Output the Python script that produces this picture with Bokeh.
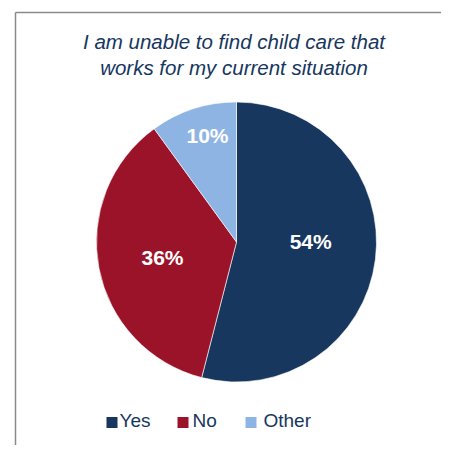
import math
from bokeh.plotting import figure
from bokeh.models import ColumnDataSource, Range1d
from bokeh.core.properties import value
from bokeh.embed import file_html
from bokeh.resources import INLINE

# ---- data ----
categories = ["Yes", "No", "Other"]
percents = [54, 36, 10]
colors = ["#17375E", "#9B1329", "#8EB4E3"]
label_radius_frac = [0.53, 0.54, 0.79]
label_angle_shift_deg = [7.6, 1.0, -2.8]
title_lines = ["I am unable to find child care that", "works for my current situation"]

W, H = 441, 445
FONT = "Liberation Sans"
NAVY = "#17375E"

p = figure(width=W, height=H, output_backend="svg", toolbar_location=None,
           x_range=Range1d(0, W), y_range=Range1d(0, H), min_border=0)
p.axis.visible = False
p.grid.visible = False
p.outline_line_color = None
p.background_fill_color = "white"

# frame border (left and top)
p.segment(x0=[15, 15], y0=[433, 433], x1=[15, W], y1=[0, 433],
          line_color="#8A8A8A", line_width=1.5)

# pie
cx, cy, R = 236, 203.5, 140
total = sum(percents)
starts, ends, mids = [], [], []
acc = 0.0
for v in percents:
    a0 = math.pi / 2 - 2 * math.pi * acc / total
    acc += v
    a1 = math.pi / 2 - 2 * math.pi * acc / total
    starts.append(a0)
    ends.append(a1)
    mids.append((a0 + a1) / 2)

src = ColumnDataSource(dict(cat=categories, val=percents, color=colors,
                            start=starts, end=ends))
p.wedge(x=cx, y=cy, radius=R, radius_units="screen", start_angle="start",
        end_angle="end", direction="clock", fill_color="color",
        line_color="white", line_width=0.6, source=src)

angs = [m + math.radians(s) for m, s in zip(mids, label_angle_shift_deg)]
lx = [cx + f * R * math.cos(a) for f, a in zip(label_radius_frac, angs)]
ly = [cy + f * R * math.sin(a) for f, a in zip(label_radius_frac, angs)]
p.text(x=lx, y=ly, text=[f"{v}%" for v in percents], text_color="white",
       text_font=value(FONT), text_font_size="21px", text_font_style="bold",
       text_align="center", text_baseline="middle")

# title
p.text(x=[233.5, 233.5], y=[404.5, 378.5], text=title_lines, text_color=NAVY,
       text_font=value(FONT), text_font_size="20.5px", text_font_style="italic",
       text_align="center", text_baseline="alphabetic")

# legend
sq_x = [111.5, 182.5, 250.5]
tx = [119, 192, 263]
p.scatter(x=sq_x, y=[23] * 3, marker="square", size=11, fill_color=colors,
          line_color=None)
p.text(x=tx, y=[25.5] * 3, text=categories,
       text_color=NAVY, text_font=value(FONT), text_font_size="19px",
       text_align="left", text_baseline="alphabetic")

open("out.html", "w").write(file_html(p, INLINE))
